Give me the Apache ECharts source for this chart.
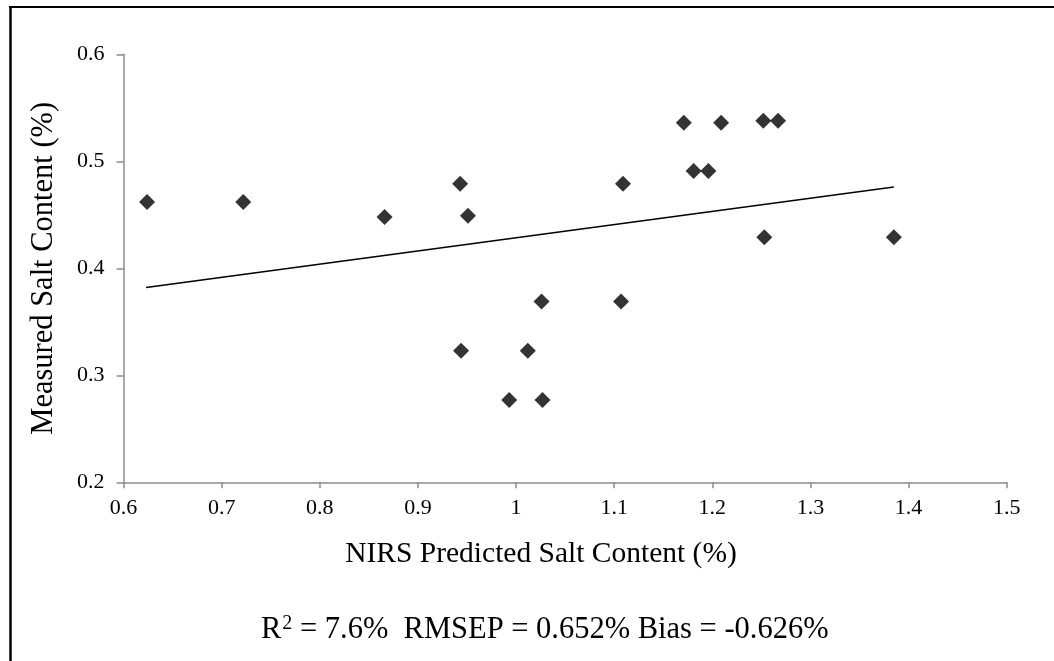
<!DOCTYPE html>
<html>
<head>
<meta charset="utf-8">
<script src="https://cdn.jsdelivr.net/npm/echarts@6/dist/echarts.min.js"></script>
<style>
  html, body { margin: 0; padding: 0; background: #fff; }
  #chart { width: 1054px; height: 661px; }
</style>
</head>
<body>
<div id="chart"></div>
<script>
// predicted (x) vs measured (y) salt content
var predicted = [0.624, 0.722, 0.866, 0.943, 0.951, 1.109, 1.171, 1.209, 1.252, 1.267,
                 1.181, 1.196, 1.253, 1.026, 1.107, 0.944, 1.012, 0.993, 1.027, 1.385];
var measured  = [0.462, 0.462, 0.448, 0.479, 0.449, 0.479, 0.536, 0.536, 0.538, 0.538,
                 0.491, 0.491, 0.429, 0.369, 0.369, 0.323, 0.323, 0.277, 0.277, 0.429];
// trend line end points
var trendX = [0.623, 1.385];
var trendY = [0.382, 0.476];

var xTicks = [0.6, 0.7, 0.8, 0.9, 1, 1.1, 1.2, 1.3, 1.4, 1.5];
var yTicks = [0.2, 0.3, 0.4, 0.5, 0.6];

var xTitle = 'NIRS Predicted Salt Content (%)';
var yTitle = 'Measured Salt Content (%)';
var statsText = '{r|R}{sup|2}{r| = 7.6%  RMSEP = 0.652% Bias = -0.626%}';

var points = predicted.map(function (x, i) { return [x, measured[i]]; });
var trend = trendX.map(function (x, i) { return [x, trendY[i]]; });

var font = '"Liberation Serif", "Times New Roman", serif';
var axisGray = '#8c8c8c';

var chart = echarts.init(document.getElementById('chart'));

chart.setOption({
  animation: false,
  backgroundColor: '#fff',
  grid: { left: 123.5, right: 47.3, top: 54.3, bottom: 178.7 },
  xAxis: {
    type: 'value',
    min: xTicks[0],
    max: xTicks[xTicks.length - 1],
    interval: 0.1,
    axisLine: { lineStyle: { color: axisGray, width: 1.5 } },
    axisTick: { show: true, length: 6, lineStyle: { color: axisGray, width: 1.5 } },
    axisLabel: {
      fontFamily: font, fontSize: 22, color: '#000', margin: 15,
      formatter: function (v) { return String(Math.round(v * 10) / 10); }
    },
    splitLine: { show: false }
  },
  yAxis: {
    type: 'value',
    min: yTicks[0],
    max: yTicks[yTicks.length - 1],
    interval: 0.1,
    name: yTitle,
    nameLocation: 'middle',
    nameGap: 64,
    nameTextStyle: { fontFamily: font, fontSize: 30.5, color: '#000' },
    axisLine: { show: true, lineStyle: { color: axisGray, width: 1.5 } },
    axisTick: { show: true, length: 7, lineStyle: { color: axisGray, width: 1.5 } },
    axisLabel: {
      fontFamily: font, fontSize: 22, color: '#000', margin: 19,
      formatter: function (v) { return (Math.round(v * 10) / 10).toFixed(1); }
    },
    splitLine: { show: false }
  },
  series: [
    {
      type: 'line',
      data: trend,
      symbol: 'none',
      lineStyle: { color: '#000', width: 1.6 },
      z: 2
    },
    {
      type: 'scatter',
      data: points,
      symbol: 'diamond',
      symbolSize: 16,
      itemStyle: { color: '#000' },
      z: 3
    }
  ],
  graphic: [
    { type: 'line', shape: { x1: 10.5, y1: 6, x2: 10.5, y2: 661 }, style: { stroke: '#000', lineWidth: 2.5 } },
    { type: 'line', shape: { x1: 9, y1: 7, x2: 1054, y2: 7 }, style: { stroke: '#000', lineWidth: 2 } },
    {
      type: 'text',
      x: 541,
      y: 554,
      style: {
        text: xTitle,
        fontFamily: font, fontSize: 29.5, fill: '#000',
        align: 'center', verticalAlign: 'middle'
      }
    },
    {
      type: 'text',
      left: 261,
      top: 614,
      style: {
        text: statsText,
        rich: {
          r: { fontFamily: font, fontSize: 30.5, fill: '#000' },
          sup: { fontFamily: font, fontSize: 20, fill: '#000', verticalAlign: 'top', padding: [0, 0, 10, 1] }
        }
      }
    }
  ]
});
</script>
</body>
</html>
